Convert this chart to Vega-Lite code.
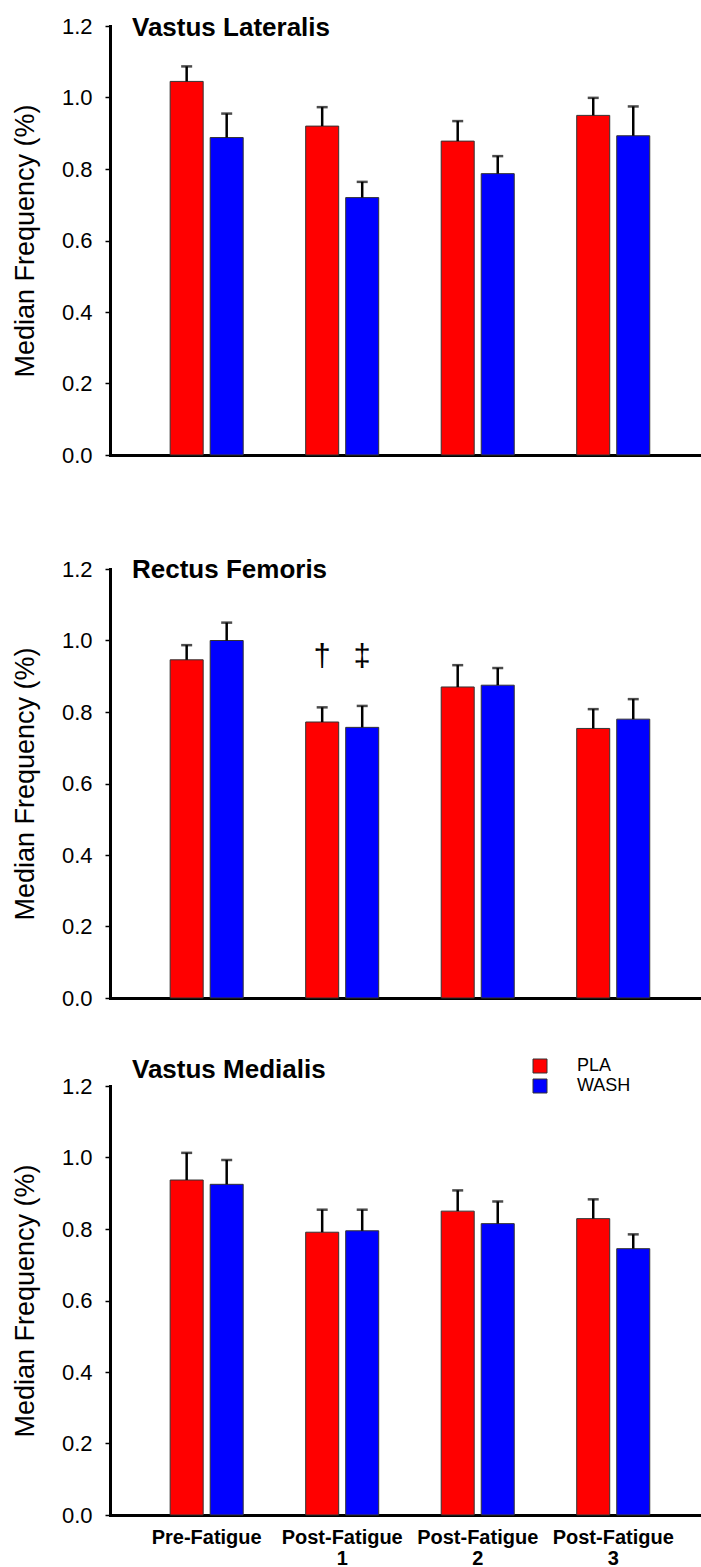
{
  "$schema": "https://vega.github.io/schema/vega-lite/v6.json",
  "padding": {"left": 11, "top": 15, "right": 0, "bottom": 0},
  "background": "white",
  "datasets": {
    "bars": [
      {"muscle": "Vastus Lateralis", "condition": "Pre-Fatigue", "group": "PLA", "mean": 1.045, "upper": 1.087},
      {"muscle": "Vastus Lateralis", "condition": "Pre-Fatigue", "group": "WASH", "mean": 0.888, "upper": 0.955},
      {"muscle": "Vastus Lateralis", "condition": "Post-Fatigue 1", "group": "PLA", "mean": 0.920, "upper": 0.973},
      {"muscle": "Vastus Lateralis", "condition": "Post-Fatigue 1", "group": "WASH", "mean": 0.720, "upper": 0.764},
      {"muscle": "Vastus Lateralis", "condition": "Post-Fatigue 2", "group": "PLA", "mean": 0.878, "upper": 0.934},
      {"muscle": "Vastus Lateralis", "condition": "Post-Fatigue 2", "group": "WASH", "mean": 0.787, "upper": 0.836},
      {"muscle": "Vastus Lateralis", "condition": "Post-Fatigue 3", "group": "PLA", "mean": 0.950, "upper": 0.999},
      {"muscle": "Vastus Lateralis", "condition": "Post-Fatigue 3", "group": "WASH", "mean": 0.893, "upper": 0.975},
      {"muscle": "Rectus Femoris", "condition": "Pre-Fatigue", "group": "PLA", "mean": 0.946, "upper": 0.987},
      {"muscle": "Rectus Femoris", "condition": "Pre-Fatigue", "group": "WASH", "mean": 1.000, "upper": 1.050},
      {"muscle": "Rectus Femoris", "condition": "Post-Fatigue 1", "group": "PLA", "mean": 0.772, "upper": 0.813},
      {"muscle": "Rectus Femoris", "condition": "Post-Fatigue 1", "group": "WASH", "mean": 0.757, "upper": 0.817},
      {"muscle": "Rectus Femoris", "condition": "Post-Fatigue 2", "group": "PLA", "mean": 0.870, "upper": 0.931},
      {"muscle": "Rectus Femoris", "condition": "Post-Fatigue 2", "group": "WASH", "mean": 0.875, "upper": 0.923},
      {"muscle": "Rectus Femoris", "condition": "Post-Fatigue 3", "group": "PLA", "mean": 0.754, "upper": 0.808},
      {"muscle": "Rectus Femoris", "condition": "Post-Fatigue 3", "group": "WASH", "mean": 0.780, "upper": 0.836},
      {"muscle": "Vastus Medialis", "condition": "Pre-Fatigue", "group": "PLA", "mean": 0.937, "upper": 1.013},
      {"muscle": "Vastus Medialis", "condition": "Pre-Fatigue", "group": "WASH", "mean": 0.925, "upper": 0.993},
      {"muscle": "Vastus Medialis", "condition": "Post-Fatigue 1", "group": "PLA", "mean": 0.791, "upper": 0.854},
      {"muscle": "Vastus Medialis", "condition": "Post-Fatigue 1", "group": "WASH", "mean": 0.795, "upper": 0.854},
      {"muscle": "Vastus Medialis", "condition": "Post-Fatigue 2", "group": "PLA", "mean": 0.850, "upper": 0.908},
      {"muscle": "Vastus Medialis", "condition": "Post-Fatigue 2", "group": "WASH", "mean": 0.815, "upper": 0.877},
      {"muscle": "Vastus Medialis", "condition": "Post-Fatigue 3", "group": "PLA", "mean": 0.829, "upper": 0.883},
      {"muscle": "Vastus Medialis", "condition": "Post-Fatigue 3", "group": "WASH", "mean": 0.745, "upper": 0.785}
    ],
    "notes": [
      {"muscle": "Rectus Femoris", "condition": "Post-Fatigue 1", "group": "PLA", "level": 0.955, "symbol": "†"},
      {"muscle": "Rectus Femoris", "condition": "Post-Fatigue 1", "group": "WASH", "level": 0.955, "symbol": "‡"}
    ]
  },
  "resolve": {"scale": {"color": "independent"}, "legend": {"color": "independent"}},
  "bounds": "flush",
  "spacing": 88,
  "vconcat": [
    {
      "width": 591, "height": 429,
      "data": {"name": "bars"},
      "transform": [{"filter": "datum.muscle == 'Vastus Lateralis'"}],
      "title": {"text": "Vastus Lateralis", "anchor": "start", "frame": "group", "dx": 22, "offset": -47, "baseline": "alphabetic", "fontSize": 26, "fontWeight": "bold", "font": "Liberation Sans", "color": "black"},
      "encoding": {
        "x": {"field": "condition", "type": "nominal", "sort": ["Pre-Fatigue", "Post-Fatigue 1", "Post-Fatigue 2", "Post-Fatigue 3"], "scale": {"paddingInner": 0.461, "paddingOuter": 0.411, "align": 0.54}, "axis": {"labels": false, "ticks": false, "title": null}},
        "xOffset": {"field": "group", "type": "nominal", "sort": ["PLA", "WASH"], "scale": {"paddingInner": 0.175, "paddingOuter": 0}}
      },
      "layer": [
        {"mark": {"type": "bar", "stroke": "#333333", "strokeWidth": 1},
         "encoding": {
           "y": {"field": "mean", "type": "quantitative", "scale": {"domain": [0, 1.2], "nice": false}, "axis": {"title": "Median Frequency (%)", "values": [0, 0.2, 0.4, 0.6, 0.8, 1.0, 1.2], "format": ".1f"}},
           "color": {"field": "group", "type": "nominal", "scale": {"domain": ["PLA", "WASH"], "range": ["#ff0000", "#0000ff"]}, "legend": null}
         }},
        {"mark": {"type": "rule", "color": "black", "strokeWidth": 2.5},
         "encoding": {"y": {"field": "mean", "type": "quantitative"}, "y2": {"field": "upper"}}},
        {"mark": {"type": "tick", "color": "black", "thickness": 2.5, "size": 11},
         "encoding": {"y": {"field": "upper", "type": "quantitative"}}}
      ]
    },
    {
      "width": 591, "height": 455,
      "data": {"name": "bars"},
      "transform": [{"filter": "datum.muscle == 'Rectus Femoris'"}],
      "title": {"text": "Rectus Femoris", "anchor": "start", "frame": "group", "dx": 22, "offset": -61, "baseline": "alphabetic", "fontSize": 26, "fontWeight": "bold", "font": "Liberation Sans", "color": "black"},
      "encoding": {
        "x": {"field": "condition", "type": "nominal", "sort": ["Pre-Fatigue", "Post-Fatigue 1", "Post-Fatigue 2", "Post-Fatigue 3"], "scale": {"paddingInner": 0.461, "paddingOuter": 0.411, "align": 0.54}, "axis": {"labels": false, "ticks": false, "title": null}},
        "xOffset": {"field": "group", "type": "nominal", "sort": ["PLA", "WASH"], "scale": {"paddingInner": 0.175, "paddingOuter": 0}}
      },
      "layer": [
        {"mark": {"type": "bar", "stroke": "#333333", "strokeWidth": 1},
         "encoding": {
           "y": {"field": "mean", "type": "quantitative", "scale": {"domain": [0, 1.2], "nice": false, "range": [455, 26]}, "axis": {"title": "Median Frequency (%)", "values": [0, 0.2, 0.4, 0.6, 0.8, 1.0, 1.2], "format": ".1f"}},
           "color": {"field": "group", "type": "nominal", "scale": {"domain": ["PLA", "WASH"], "range": ["#ff0000", "#0000ff"]}, "legend": null}
         }},
        {"mark": {"type": "rule", "color": "black", "strokeWidth": 2.5},
         "encoding": {"y": {"field": "mean", "type": "quantitative"}, "y2": {"field": "upper"}}},
        {"mark": {"type": "tick", "color": "black", "thickness": 2.5, "size": 11},
         "encoding": {"y": {"field": "upper", "type": "quantitative"}}},
        {"data": {"name": "notes"},
         "mark": {"type": "text", "fontSize": 31, "baseline": "middle", "align": "center", "color": "black", "font": "Liberation Sans"},
         "encoding": {"y": {"field": "level", "type": "quantitative"}, "text": {"field": "symbol"}}}
      ]
    },
    {
      "width": 591, "height": 429,
      "data": {"name": "bars"},
      "transform": [{"filter": "datum.muscle == 'Vastus Medialis'"}],
      "title": {"text": "Vastus Medialis", "anchor": "start", "frame": "group", "dx": 22, "offset": -47, "baseline": "alphabetic", "fontSize": 26, "fontWeight": "bold", "font": "Liberation Sans", "color": "black"},
      "encoding": {
        "x": {"field": "condition", "type": "nominal", "sort": ["Pre-Fatigue", "Post-Fatigue 1", "Post-Fatigue 2", "Post-Fatigue 3"], "scale": {"paddingInner": 0.461, "paddingOuter": 0.411, "align": 0.54}, "axis": {"labelExpr": "split(datum.label, ' ')", "title": null}},
        "xOffset": {"field": "group", "type": "nominal", "sort": ["PLA", "WASH"], "scale": {"paddingInner": 0.175, "paddingOuter": 0}}
      },
      "layer": [
        {"mark": {"type": "bar", "stroke": "#333333", "strokeWidth": 1},
         "encoding": {
           "y": {"field": "mean", "type": "quantitative", "scale": {"domain": [0, 1.2], "nice": false}, "axis": {"title": "Median Frequency (%)", "values": [0, 0.2, 0.4, 0.6, 0.8, 1.0, 1.2], "format": ".1f"}},
           "color": {"field": "group", "type": "nominal", "scale": {"domain": ["PLA", "WASH"], "range": ["#ff0000", "#0000ff"]},
             "legend": {"orient": "none", "legendX": 421, "legendY": -29, "title": null, "symbolType": "square", "symbolSize": 196, "symbolStrokeColor": "#333333", "symbolStrokeWidth": 1, "labelFontSize": 18, "labelFont": "Liberation Sans", "labelColor": "black", "labelOffset": 28, "rowPadding": 2, "padding": 0}}
         }},
        {"mark": {"type": "rule", "color": "black", "strokeWidth": 2.5},
         "encoding": {"y": {"field": "mean", "type": "quantitative"}, "y2": {"field": "upper"}}},
        {"mark": {"type": "tick", "color": "black", "thickness": 2.5, "size": 11},
         "encoding": {"y": {"field": "upper", "type": "quantitative"}}}
      ]
    }
  ],
  "config": {
    "font": "Liberation Sans",
    "view": {"stroke": null},
    "axis": {"domainColor": "black", "domainWidth": 3, "domainCap": "square", "tickColor": "black", "labelColor": "black", "titleColor": "black", "grid": false, "labelFont": "Liberation Sans", "titleFont": "Liberation Sans"},
    "axisY": {"tickSize": 5, "tickWidth": 1.5, "labelFontSize": 22, "labelPadding": 13, "titleFontSize": 27, "titleFontWeight": "normal", "titlePadding": 22},
    "axisX": {"ticks": false, "labelFontSize": 20, "labelFontWeight": "bold", "labelPadding": 12, "labelLineHeight": 21, "labelAngle": 0}
  }
}
